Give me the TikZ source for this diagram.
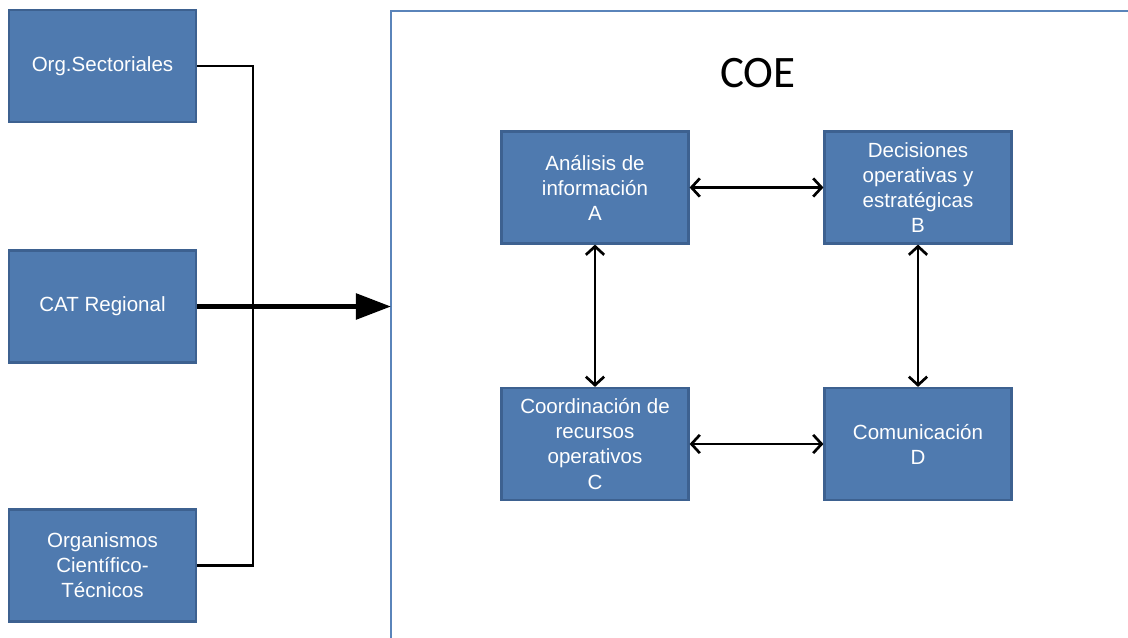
\documentclass[tikz,border=0pt]{standalone}
\usepackage{fontspec}
\setmainfont{Liberation Sans}
\newfontfamily\coefont{Carlito}
\usetikzlibrary{arrows.meta}
\definecolor{cajaazul}{HTML}{4F7AAF}
\definecolor{bordeazul}{HTML}{3D6190}
\definecolor{marcoazul}{HTML}{5A84BA}
\begin{document}
\begin{tikzpicture}[x=0.025cm, y=-0.025cm,
    caja/.style={draw=bordeazul, line width=1.5pt, fill=cajaazul, text=white,
        minimum width=4.675cm, minimum height=2.8cm, inner sep=0pt, align=center,
        font=\fontsize{14.6pt}{17.8pt}\selectfont},
    flecha/.style={line width=1.9pt, {Straight Barb[length=6pt,width=13pt]}-{Straight Barb[length=6pt,width=13pt]}},
    enlace/.style={line width=2pt}]
    \useasboundingbox (0,0) rectangle (1128,637);
    % Organismos de entrada a la izquierda
    \node[caja] (sect) at (102.5, 66) {Org.Sectoriales};
    \node[caja] (cat) at (102.5, 306.5) {CAT Regional};
    \node[caja] (cient) at (102.5, 565.5) {Organismos\\Científico-\\Técnicos};
    % Marco del COE
    \coordinate (marco-sup) at (1135, 11);
    \coordinate (marco-esq) at (391, 11);
    \coordinate (marco-inf) at (391, 645);
    \draw[marcoazul, line width=1.5pt] (marco-sup) -- (marco-esq) -- (marco-inf);
    \node[font=\coefont\fontsize{32pt}{38pt}\selectfont] (coe) at (758, 73) {COE};
    % Funciones dentro del COE
    \node[caja] (a) at (595, 187.5) {Análisis de\\información\\A};
    \node[caja] (b) at (918, 187.5) {Decisiones\\operativas y\\estratégicas\\B};
    \node[caja] (c) at (595, 444) {Coordinación de\\recursos\\operativos\\C};
    \node[caja] (d) at (918, 444) {Comunicación\\D};
    \draw[flecha] (a) -- (b);
    \draw[flecha] (c) -- (d);
    \draw[flecha] (a) -- (c);
    \draw[flecha] (b) -- (d);
    % Conexiones y flecha al COE
    \draw[enlace] (sect.east) -- ++(56,0) |- (cient.east);
    \coordinate (entrada) at (391, 306.5);
    \draw[line width=3.5pt, -{Triangle[length=25pt,width=18pt]}] (cat.east) -- (entrada);
\end{tikzpicture}
\end{document}
